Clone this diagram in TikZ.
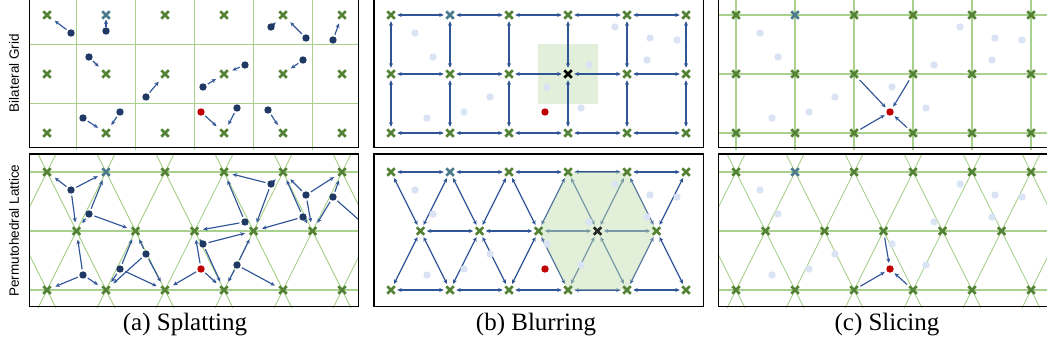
\documentclass[tikz,border=0pt]{standalone}
\usepackage{fontspec}
\setmainfont{Liberation Serif}
\setsansfont{Liberation Sans}
\usetikzlibrary{shapes.misc,arrows.meta}
\definecolor{xgreen}{HTML}{548235}
\definecolor{gline}{HTML}{A9D18E}
\definecolor{navy}{HTML}{203864}
\definecolor{arrblue}{HTML}{2F5597}
\definecolor{ltdot}{HTML}{DAE3F3}
\definecolor{reddot}{HTML}{C00000}
\definecolor{sqgreen}{HTML}{E2EFDA}
\definecolor{hexgreen}{HTML}{C5E0B4}
\definecolor{bluex}{HTML}{4A7A8C}
\pgfdeclarelayer{back}
\pgfdeclarelayer{arrl}
\pgfdeclarelayer{hexl}
\pgfsetlayers{back,arrl,hexl,main}
\tikzset{
  xnode/.style={cross out, draw=xgreen, line width=2.6pt, minimum size=5.5pt, inner sep=0pt, outer sep=1pt},
  dotnode/.style={circle, fill=navy, minimum size=7.4pt, inner sep=0pt, outer sep=0.5pt},
  ltnode/.style={dotnode, fill=ltdot},
  rednode/.style={dotnode, fill=reddot},
  sarr/.style={draw=arrblue, line width=1.15pt, -{Stealth[length=4.5pt,width=4pt]}, shorten <=1.5pt, shorten >=5pt},
  barr/.style={draw=arrblue, line width=1.25pt, {Stealth[length=4.5pt,width=4pt]}-{Stealth[length=4.5pt,width=4pt]}, shorten <=2.5pt, shorten >=2.5pt},
  carr/.style={draw=arrblue, line width=1.15pt, -{Stealth[length=4.5pt,width=4pt]}, shorten <=3pt, shorten >=2pt},
  panelframe/.style={draw=black, line width=1.8pt},
  gridline/.style={draw=gline, line width=1.4pt},
  latline/.style={draw=gline, line width=0.9pt},
  rowlab/.style={rotate=90, font=\sffamily\fontsize{13.5}{16}\selectfont},
  captext/.style={font=\fontsize{25}{30}\selectfont}
}
\begin{document}
\begin{tikzpicture}[x=1pt,y=-1pt]
\useasboundingbox (0,0) rectangle (1047,356);

% ---------------- crosses ----------------
\foreach \p/\ox in {a/0,b/344,c/689}{
  \foreach \r/\y in {0/15,1/74,2/133}{
    \foreach \j in {0,...,5}{
      \def\xc{xgreen}
      \ifnum\r=0 \ifnum\j=1 \def\xc{bluex}\fi\fi
      \ifnum\ox=344 \ifnum\r=1 \ifnum\j=3 \def\xc{black}\fi\fi\fi
      \node[xnode, draw=\xc] (\p g\r\j) at ({47+59*\j+\ox},\y) {};
    }
  }
  \foreach \j in {0,...,5}{
    \def\xc{xgreen}
    \ifnum\j=1 \def\xc{bluex}\fi
    \node[xnode, draw=\xc] (\p l0\j) at ({47+59*\j+\ox},172) {};
    \node[xnode] (\p l2\j) at ({47+59*\j+\ox},290) {};
  }
  \foreach \j in {0,...,4}{
    \def\xc{xgreen}
    \ifnum\ox=344 \ifnum\j=3 \def\xc{black!85}\fi\fi
    \node[xnode, draw=\xc] (\p l1\j) at ({76.5+59*\j+\ox},231) {};
  }
}
\coordinate (al15) at (371.5,231);

% ---------------- dots ----------------
\foreach \n/\dx/\dy in {1/71/33, 3/271/27, 4/306/38, 5/333/40, 6/89/57, 7/146/97, 8/203/87, 9/245/65, 10/303/60, 11/83/118, 12/120/112, 14/237/108}{
  \node[dotnode] (atd\n) at (\dx,\dy) {};
  \node[dotnode] (abd\n) at (\dx,{\dy+157}) {};
  \node[ltnode] (btd\n) at ({\dx+344},\dy) {};
  \node[ltnode] (bbd\n) at ({\dx+344},{\dy+157}) {};
  \node[ltnode] (ctd\n) at ({\dx+689},\dy) {};
  \node[ltnode] (cbd\n) at ({\dx+689},{\dy+157}) {};
}
\node[dotnode] (atd2) at (106,31) {};
\node[dotnode] (atd15) at (268,110) {};
\node[rednode] (atr) at (201,112) {};
\node[rednode] (abr) at (201,269) {};
\node[rednode] (btr) at (545,112) {};
\node[rednode] (bbr) at (545,269) {};
\node[rednode] (ctr) at (890,112) {};
\node[rednode] (cbr) at (890,269) {};

% ---------------- background: shading and grid lines ----------------
\begin{pgfonlayer}{back}
  \fill[sqgreen] (538,43.5) rectangle (598,103.5);
  % bilateral grid cell lines (a)
  \foreach \j in {0,...,4}
    \draw[gridline] ({76.5+59*\j},-3) -- ({76.5+59*\j},150);
  \foreach \y in {44.5,103.5}
    \draw[gridline] (29.5,\y) -- (358.5,\y);
  % grid lines (c)
  \foreach \j in {0,...,5}
    \draw[gridline] ({736+59*\j},-3) -- ({736+59*\j},150);
  \foreach \y in {15,74,133}
    \draw[gridline] (718.5,\y) -- (1050,\y);
  % permutohedral lattice lines (a) and (c)
  \foreach \ox/\xr in {0/358.5,689/1050}{
    \begin{scope}
      \clip ({29.5+\ox},154) rectangle (\xr,308.5);
      \foreach \y in {172,231,290}
        \draw[latline, line width=1.2pt] ({29.5+\ox},\y) -- (\xr,\y);
      \foreach \k in {-3,...,8}{
        \draw[latline] ({47+59*\k+\ox-9},154) -- ({47+59*\k+\ox+68},308);
        \draw[latline] ({47+59*\k+\ox+9},154) -- ({47+59*\k+\ox-68},308);
      }
    \end{scope}
  }
\end{pgfonlayer}

% ---------------- arrows ----------------
\begin{pgfonlayer}{arrl}
  % (a) splatting, grid
  \foreach \s/\t in {atd1/ag00, atd3/ag04, atd4/ag04, atd5/ag05, atd6/ag11, atd7/ag12, atd8/ag13, atd9/ag13, atd10/ag14, atd11/ag21, atd12/ag21, atr/ag23, atd14/ag23, atd15/ag24}
    \draw[sarr] (\s) -- (\t);
  \draw[sarr, shorten <=0.3pt, shorten >=0.8pt] (atd2) -- (ag01);
  % (a) splatting, lattice
  \begin{scope}
    \clip (29.5,154) rectangle (358.5,306.5);
    \foreach \s/\t in {abd1/al00, abd1/al01, abd1/al10,
                       abd6/al01, abd6/al10, abd6/al11,
                       abd11/al10, abd11/al20, abd11/al21,
                       abd12/al11, abd12/al21, abd12/al22,
                       abd7/al11, abd7/al21, abd7/al22,
                       abr/al12, abr/al22, abr/al23,
                       abd8/al12, abd8/al13, abd8/al23,
                       abd14/al13, abd14/al23, abd14/al24,
                       abd9/al03, abd9/al12, abd9/al13,
                       abd3/al03, abd3/al04, abd3/al13,
                       abd10/al04, abd10/al13, abd10/al14,
                       abd4/al04, abd4/al05, abd4/al14,
                       abd5/al05, abd5/al14, abd5/al15}
      \draw[sarr] (\s) -- (\t);
  \end{scope}
  % (b) blurring, grid
  \foreach \r in {0,1,2}
    \foreach \j [count=\k from 1] in {0,...,4}
      \draw[barr] (bg\r\j) -- (bg\r\k);
  \foreach \r [count=\q from 1] in {0,1}
    \foreach \j in {0,...,5}
      \draw[barr] (bg\r\j) -- (bg\q\j);
  % (b) blurring, lattice
  \foreach \j [count=\k from 1] in {0,...,4}{
    \draw[barr] (bl0\j) -- (bl0\k);
    \draw[barr] (bl2\j) -- (bl2\k);
    \draw[barr] (bl1\j) -- (bl0\j);
    \draw[barr] (bl1\j) -- (bl0\k);
    \draw[barr] (bl1\j) -- (bl2\j);
    \draw[barr] (bl1\j) -- (bl2\k);
  }
  \foreach \j [count=\k from 1] in {0,...,3}
    \draw[barr] (bl1\j) -- (bl1\k);
  % (c) slicing
  \foreach \s in {cg12, cg13, cg22, cg23}
    \draw[carr] (\s) -- (ctr);
  \foreach \s in {cl12, cl22, cl23}
    \draw[carr] (\s) -- (cbr);
\end{pgfonlayer}

% ---------------- hexagon neighbourhood ----------------
\begin{pgfonlayer}{hexl}
  \fill[hexgreen, fill opacity=0.5] (bl03.center) -- (bl04.center) -- (bl14.center)
     -- (bl24.center) -- (bl23.center) -- (bl12.center) -- cycle;
\end{pgfonlayer}

% ---------------- frames ----------------
\draw[panelframe] (29.5,-3) rectangle (358.5,147.5);
\draw[panelframe] (29.5,154) rectangle (358.5,306.5);
\draw[panelframe] (374,-3) rectangle (703.5,147.5);
\draw[panelframe] (374,154) rectangle (703.5,306.5);
\draw[panelframe] (718.5,-3) rectangle (1050,147.5);
\draw[panelframe] (718.5,154) rectangle (1050,306.5);

% ---------------- labels ----------------
\node[rowlab] (lbg) at (14,73) {Bilateral Grid};
\node[rowlab] (lpl) at (14,230.5) {Permutohedral Lattice};
\node[captext] (capa) at (185,325) {(a) Splatting};
\node[captext] (capb) at (536,325) {(b) Blurring};
\node[captext] (capc) at (887,325) {(c) Slicing};
\end{tikzpicture}
\end{document}
